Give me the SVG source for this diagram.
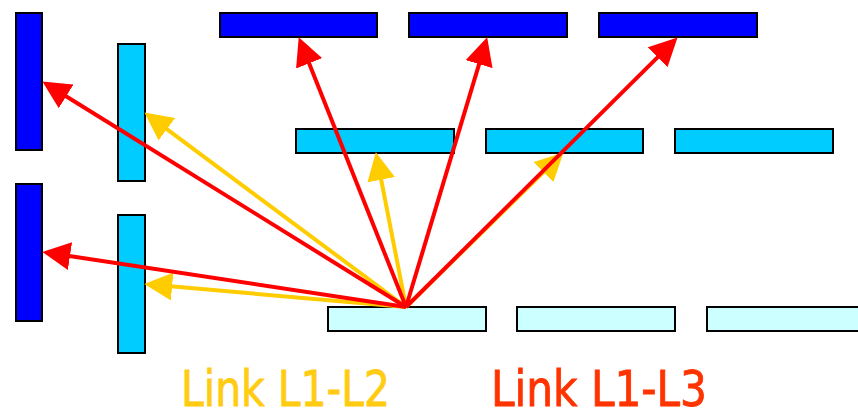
<svg xmlns="http://www.w3.org/2000/svg" width="858" height="413" viewBox="0 0 858 413">
<style>
.n rect{stroke:#000;stroke-width:2}
.l1{fill:#0000FF}
.l2{fill:#00CCFF}
.l3{fill:#CCFFFF}
.red{stroke:#FF0000;stroke-width:4;fill:none;marker-end:url(#ar)}
.yel{stroke:#FFCC00;stroke-width:4;fill:none;marker-end:url(#ay)}
.lbl{font-family:"DejaVu Sans Condensed","Liberation Sans Narrow","Liberation Sans",sans-serif;font-size:50px;stroke-width:0.8px}
</style>
<defs>
<marker id="ar" markerUnits="userSpaceOnUse" markerWidth="28" markerHeight="28" viewBox="0 0 27 27" refX="7" refY="13.5" orient="auto"><path d="M0,0 L27,13.5 L0,27 z" fill="#FF0000"/></marker>
<marker id="ay" markerUnits="userSpaceOnUse" markerWidth="28" markerHeight="28" viewBox="0 0 27 27" refX="7" refY="13.5" orient="auto"><path d="M0,0 L27,13.5 L0,27 z" fill="#FFCC00"/></marker>
</defs>
<rect width="858" height="413" fill="#fff"/>
<g id="nodes" class="n">
<g id="L1a"><rect class="l1" x="16" y="13" width="26" height="137"/></g>
<g id="L1b"><rect class="l1" x="16" y="184" width="26" height="137"/></g>
<g id="L2a"><rect class="l2" x="118" y="44" width="27" height="137"/></g>
<g id="L2b"><rect class="l2" x="118" y="215" width="27" height="138"/></g>
<g id="T1"><rect class="l1" x="220" y="13" width="157" height="24"/></g>
<g id="T2"><rect class="l1" x="409" y="13" width="158" height="24"/></g>
<g id="T3"><rect class="l1" x="599" y="13" width="158" height="24"/></g>
<g id="M1"><rect class="l2" x="296" y="129" width="158" height="24"/></g>
<g id="M2"><rect class="l2" x="486" y="129" width="157" height="24"/></g>
<g id="M3"><rect class="l2" x="675" y="129" width="158" height="24"/></g>
<g id="B1"><rect class="l3" x="328" y="307" width="158" height="24"/></g>
<g id="B2"><rect class="l3" x="517" y="307" width="158" height="24"/></g>
<g id="B3"><rect class="l3" x="707" y="307" width="158" height="24"/></g>
</g>
<g id="connectors">
<line class="yel" x1="406" y1="307" x2="161.1" y2="124.9"/>
<line class="yel" x1="406" y1="307" x2="164.9" y2="285.8"/>
<line class="yel" x1="406" y1="307" x2="379.8" y2="172.6"/>
<line class="yel" x1="406" y1="307" x2="548.7" y2="167"/>
<line class="red" x1="406" y1="307" x2="60" y2="92.5"/>
<line class="red" x1="406" y1="307" x2="62.8" y2="255"/>
<line class="red" x1="406" y1="307" x2="306.4" y2="56.6"/>
<line class="red" x1="406" y1="307" x2="481.2" y2="57.2"/>
<line class="red" x1="406" y1="307" x2="662.8" y2="52.1"/>
</g>
<g id="labels">
<text class="lbl" x="181" y="406" fill="#FFCC11" stroke="#FFCC11" textLength="209" lengthAdjust="spacingAndGlyphs">Link L1-L2</text>
<text class="lbl" x="491" y="406" fill="#FF3300" stroke="#FF3300" textLength="216" lengthAdjust="spacingAndGlyphs">Link L1-L3</text>
</g>
</svg>
